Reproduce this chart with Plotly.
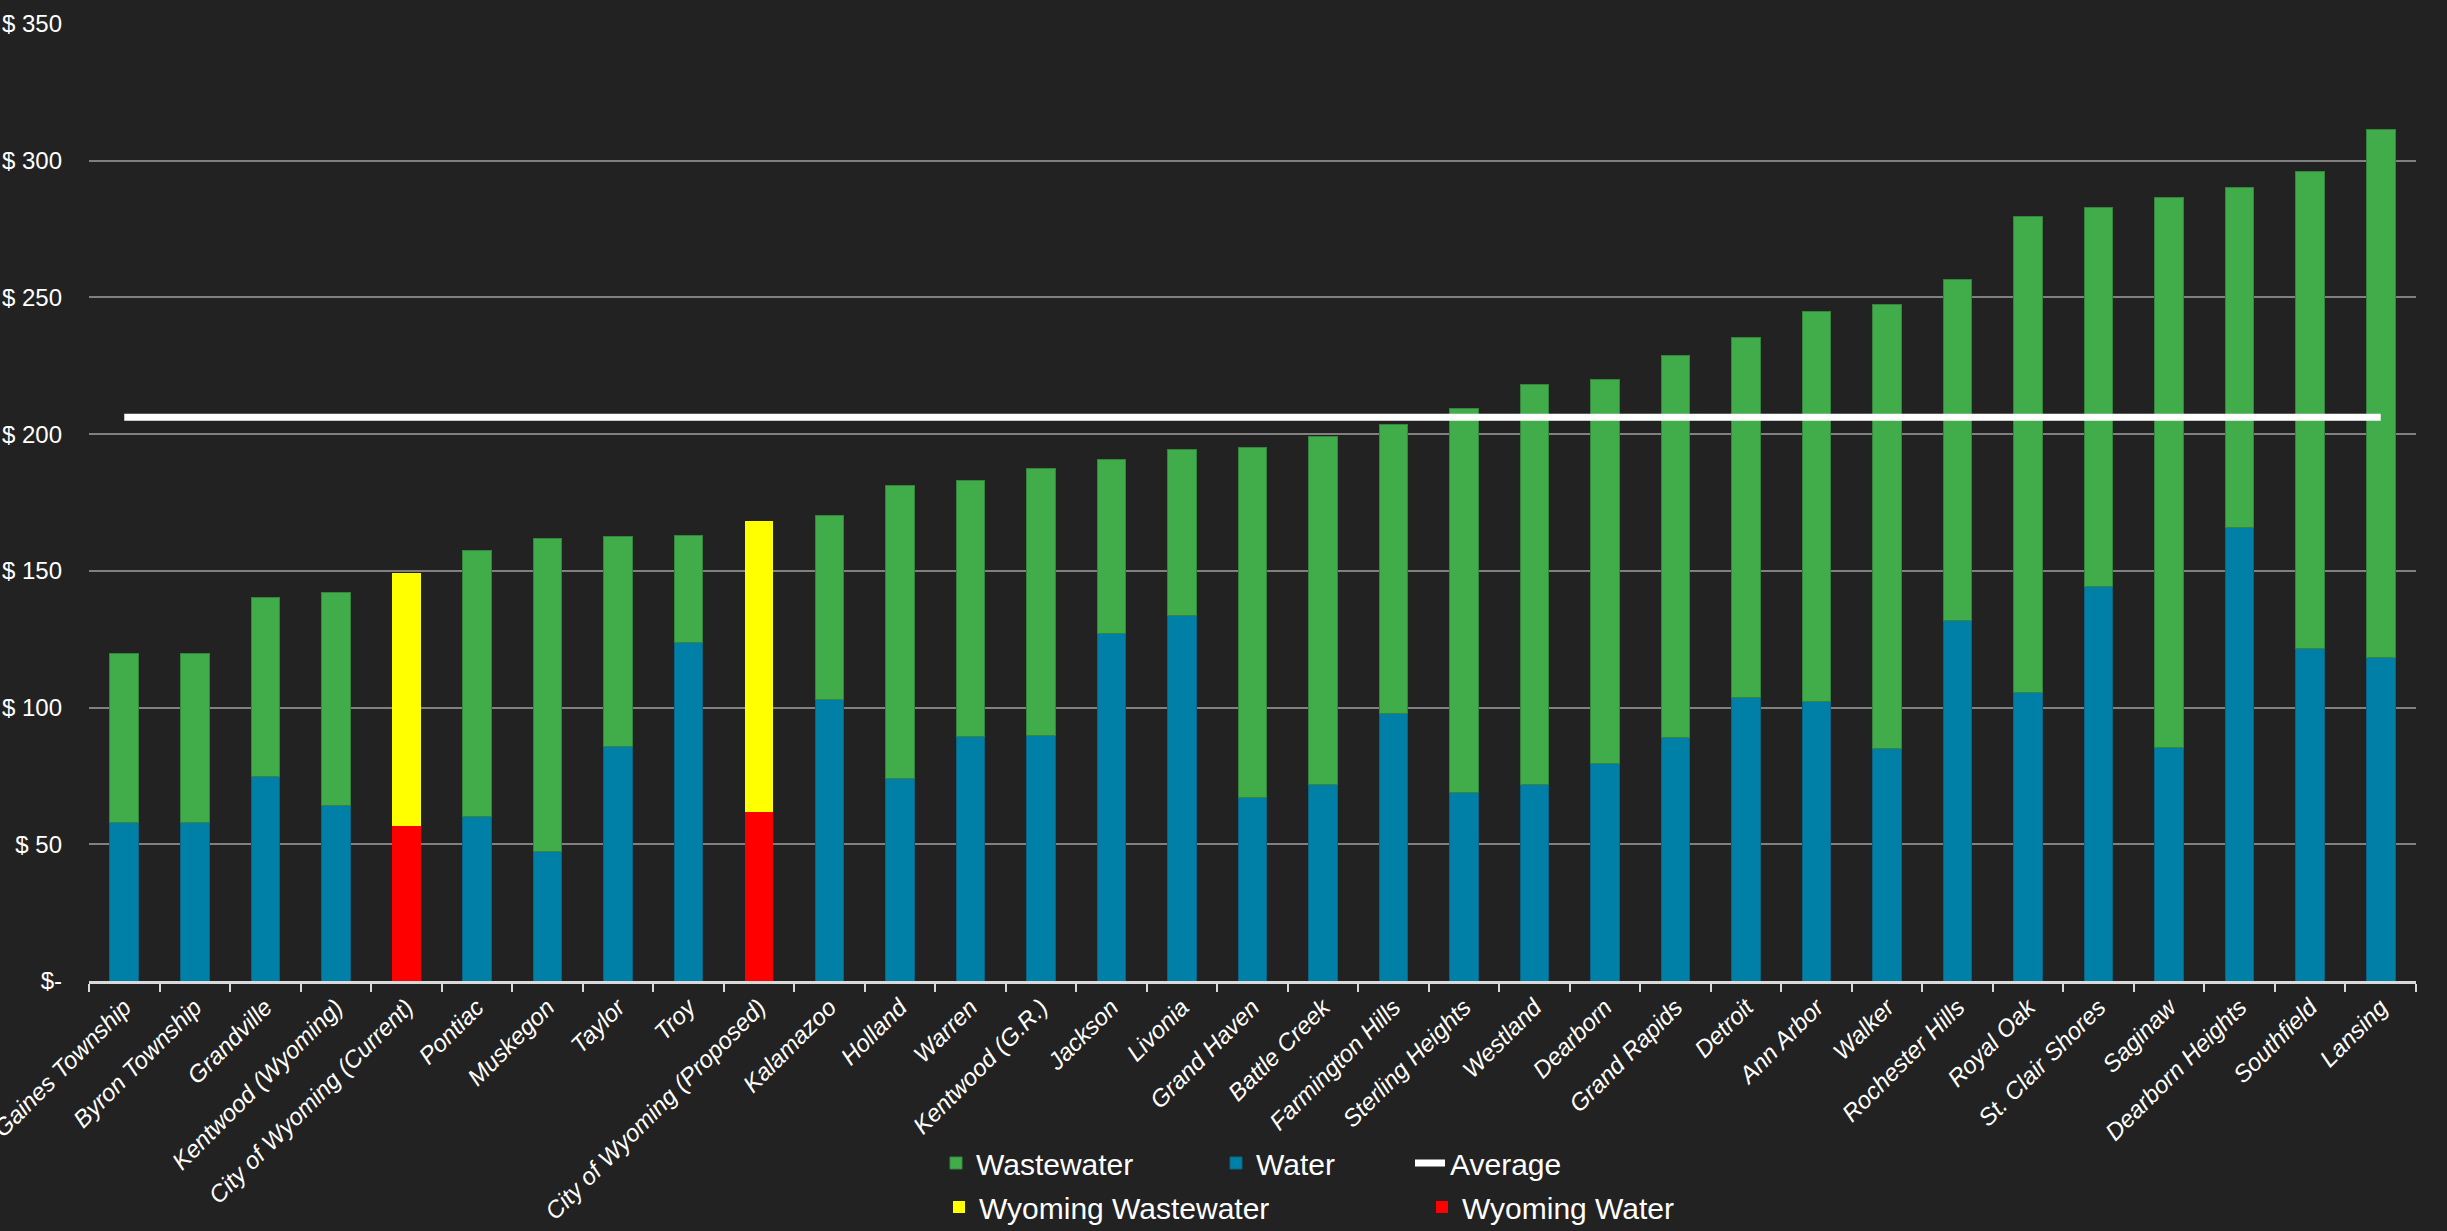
import plotly.graph_objects as go

# Monthly water / wastewater bill by community (USD)
cities = [
    "Gaines Township", "Byron Township", "Grandville", "Kentwood (Wyoming)",
    "City of Wyoming (Current)", "Pontiac", "Muskegon", "Taylor", "Troy",
    "City of Wyoming (Proposed)", "Kalamazoo", "Holland", "Warren",
    "Kentwood (G.R.)", "Jackson", "Livonia", "Grand Haven", "Battle Creek",
    "Farmington Hills", "Sterling Heights", "Westland", "Dearborn",
    "Grand Rapids", "Detroit", "Ann Arbor", "Walker", "Rochester Hills",
    "Royal Oak", "St. Clair Shores", "Saginaw", "Dearborn Heights",
    "Southfield", "Lansing",
]

water = [
    58.0, 58.0, 74.7, 64.1, 56.8, 60.1, 47.3, 85.8, 123.7, 61.9, 103.1,
    74.0, 89.5, 89.9, 127.2, 133.7, 67.2, 71.8, 98.0, 68.9, 71.8, 79.7,
    88.9, 103.8, 102.3, 85.1, 132.0, 105.5, 144.4, 85.5, 165.7, 121.7, 118.4,
]

wastewater = [
    61.7, 61.7, 65.6, 78.1, 92.5, 97.2, 114.4, 76.6, 39.1, 106.3, 67.0,
    107.4, 93.7, 97.7, 63.7, 60.7, 127.8, 127.4, 105.5, 140.5, 146.2, 140.3,
    139.7, 131.7, 142.6, 162.4, 124.7, 174.1, 138.6, 201.0, 124.4, 174.2, 193.2,
]

average_bill = 206.2

wyoming_cities = ["City of Wyoming (Current)", "City of Wyoming (Proposed)"]

y_tick_values = [0, 50, 100, 150, 200, 250, 300, 350]
y_tick_labels = ["$-", "$ 50", "$ 100", "$ 150", "$ 200", "$ 250", "$ 300", "$ 350"]

GREEN = "#40ad4a"
BLUE = "#007fa7"
YELLOW = "#ffff00"
RED = "#ff0000"
BG = "#222222"
FONT = "Liberation Sans, Arial, sans-serif"


def pick(values, wyoming):
    """Keep values for Wyoming rows (wyoming=True) or for all other rows."""
    return [v if ((c in wyoming_cities) == wyoming) else None
            for c, v in zip(cities, values)]


fig = go.Figure()

fig.add_trace(go.Bar(
    x=cities, y=pick(water, False), name="Water", legend="legend2",
    marker=dict(color=BLUE, line=dict(color="#0b6483", width=1)),
))
fig.add_trace(go.Bar(
    x=cities, y=pick(water, True), name="Wyoming Water", legend="legend5",
    marker=dict(color=RED, line=dict(width=0)),
))
fig.add_trace(go.Bar(
    x=cities, y=pick(wastewater, False), name="Wastewater", legend="legend",
    marker=dict(color=GREEN, line=dict(color="#35863c", width=1)),
))
fig.add_trace(go.Bar(
    x=cities, y=pick(wastewater, True), name="Wyoming Wastewater", legend="legend4",
    marker=dict(color=YELLOW, line=dict(width=0)),
))
fig.add_trace(go.Scatter(
    x=cities, y=[average_bill] * len(cities), name="Average", legend="legend3",
    mode="lines", line=dict(color="white", width=7),
))

W, H = 2447, 1231
ML, MR, MT, MB = 89, 31, 24, 250
plot_w = W - ML - MR
plot_h = H - MT - MB


def legend_at(px_x, px_y):
    return dict(
        x=(px_x - ML) / plot_w, y=(H - MB - px_y) / plot_h,
        xanchor="left", yanchor="middle", orientation="h",
        bgcolor="rgba(0,0,0,0)", borderwidth=0,
        font=dict(family=FONT, size=30, color="white"),
        itemclick=False, itemdoubleclick=False,
    )


fig.update_layout(
    width=W, height=H,
    margin=dict(l=ML, r=MR, t=MT, b=MB, autoexpand=False),
    paper_bgcolor=BG, plot_bgcolor=BG,
    barmode="stack", bargap=0.595,
    font=dict(family=FONT, color="white"),
    showlegend=True,
    legend=legend_at(936, 1163),
    legend2=legend_at(1216, 1163),
    legend3=legend_at(1410, 1163),
    legend4=legend_at(939, 1207),
    legend5=legend_at(1422, 1207),
)

fig.update_yaxes(
    range=[0, 350], tickvals=y_tick_values, ticktext=y_tick_labels,
    showgrid=True, gridcolor="#808080", gridwidth=1.5,
    zeroline=False, showline=False, ticks="",
    ticklabelstandoff=26, automargin=False,
    tickfont=dict(family=FONT, size=24, color="white"),
)

fig.update_xaxes(
    showline=True, linecolor="#d9d9d9", linewidth=2.5,
    ticks="outside", tickson="boundaries", ticklen=8, tickwidth=2,
    tickcolor="#d9d9d9", tickangle=-45, showgrid=False, automargin=False,
    tickfont=dict(family=FONT, size=24, color="white", style="italic"),
)

fig.write_html("out.html")
